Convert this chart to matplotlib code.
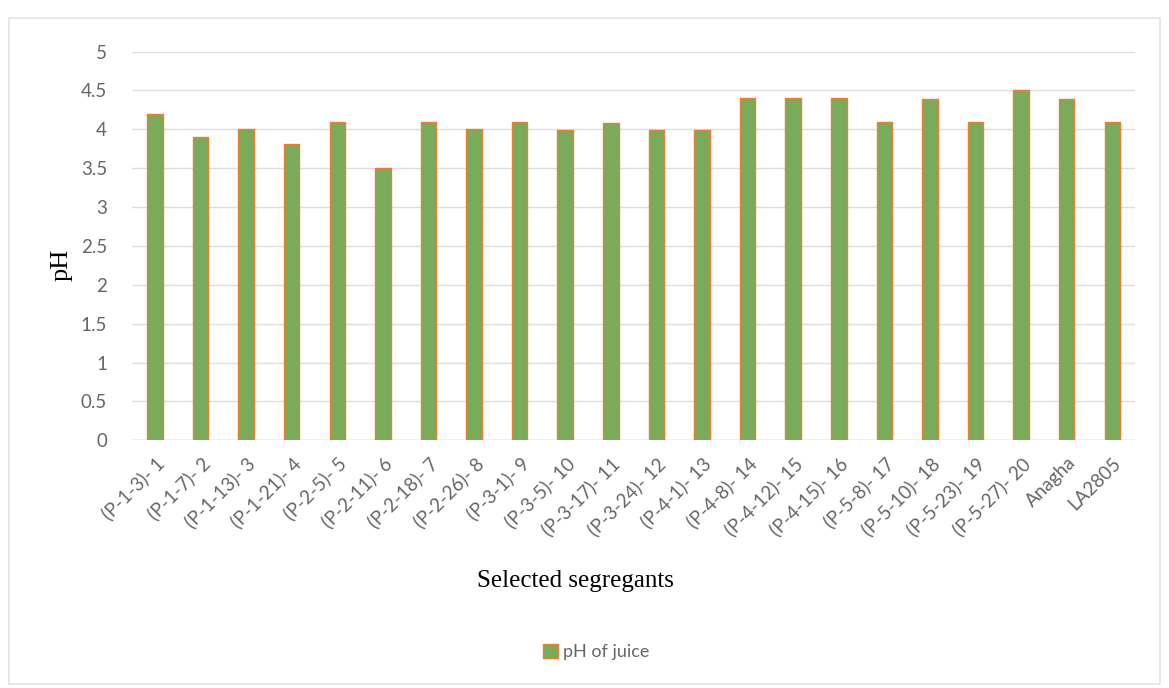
import numpy as np
import matplotlib.pyplot as plt
from matplotlib.patches import Rectangle, Patch

# pH of juice for each selected segregant and the two checks
labels = ['(P-1-3)- 1', '(P-1-7)- 2', '(P-1-13)- 3', '(P-1-21)- 4', '(P-2-5)- 5',
          '(P-2-11)- 6', '(P-2-18)- 7', '(P-2-26)- 8', '(P-3-1)- 9', '(P-3-5)- 10',
          '(P-3-17)- 11', '(P-3-24)- 12', '(P-4-1)- 13', '(P-4-8)- 14', '(P-4-12)- 15',
          '(P-4-15)- 16', '(P-5-8)- 17', '(P-5-10)- 18', '(P-5-23)- 19', '(P-5-27)- 20',
          'Anagha', 'LA2805']
ph = [4.20, 3.90, 4.00, 3.81, 4.10, 3.50, 4.10, 4.00, 4.10, 3.99, 4.08,
      3.99, 3.99, 4.40, 4.40, 4.40, 4.10, 4.39, 4.10, 4.50, 4.39, 4.10]
yticks = np.arange(0, 5.01, 0.5)

green = '#7aab5a'
orange = '#ed7d31'
grey = '#666666'
tick_font = ['Lato', 'DejaVu Sans']
serif = ['Liberation Serif', 'DejaVu Serif']

fig = plt.figure(figsize=(11.69, 6.88), dpi=100)
ax = fig.add_axes([0.113, 0.36, 0.858, 0.565])

x = np.arange(len(labels))
ax.bar(x, ph, width=0.34, color=green, edgecolor=orange, linewidth=1.0, zorder=3)

ax.set_xlim(-0.5, len(labels) - 0.5)
ax.set_ylim(0, 5)
ax.set_yticks(yticks)
ax.set_yticklabels(['%g' % v for v in yticks], family=tick_font, fontsize=13.5, color=grey)
ax.set_xticks(x)
ax.set_xticklabels(labels, rotation=45, ha='right', rotation_mode='anchor',
                   family=tick_font, fontsize=13.5, color=grey)
ax.tick_params(axis='y', length=0, pad=18)
ax.tick_params(axis='x', length=0, pad=10)
ax.grid(axis='y', color='#dedede', linewidth=1.0, zorder=0)
for s in ax.spines.values():
    s.set_visible(False)
ax.axhline(0, color='#d4d4d4', linewidth=1.0, zorder=2)

fig.text(0.053, 0.615, 'pH', rotation=90, ha='center', va='center',
         family=serif, fontsize=19, color='black')
fig.text(0.492, 0.155, 'Selected segregants', ha='center', va='center',
         family=serif, fontsize=18, color='black')

handle = Patch(facecolor=green, edgecolor=orange, linewidth=1.0)
fig.legend([handle], ['pH of juice'], loc='center', bbox_to_anchor=(0.51, 0.052),
           frameon=False, prop={'family': tick_font, 'size': 13},
           labelcolor=grey, handlelength=0.8, handleheight=0.8, handletextpad=0.3)

# light chart-area border
fig.patches.append(Rectangle((0.008, 0.006), 0.984, 0.968, transform=fig.transFigure,
                             fill=False, edgecolor='#e3e3e3', linewidth=1.2))

fig.savefig('out.png', dpi=100, facecolor='white')
